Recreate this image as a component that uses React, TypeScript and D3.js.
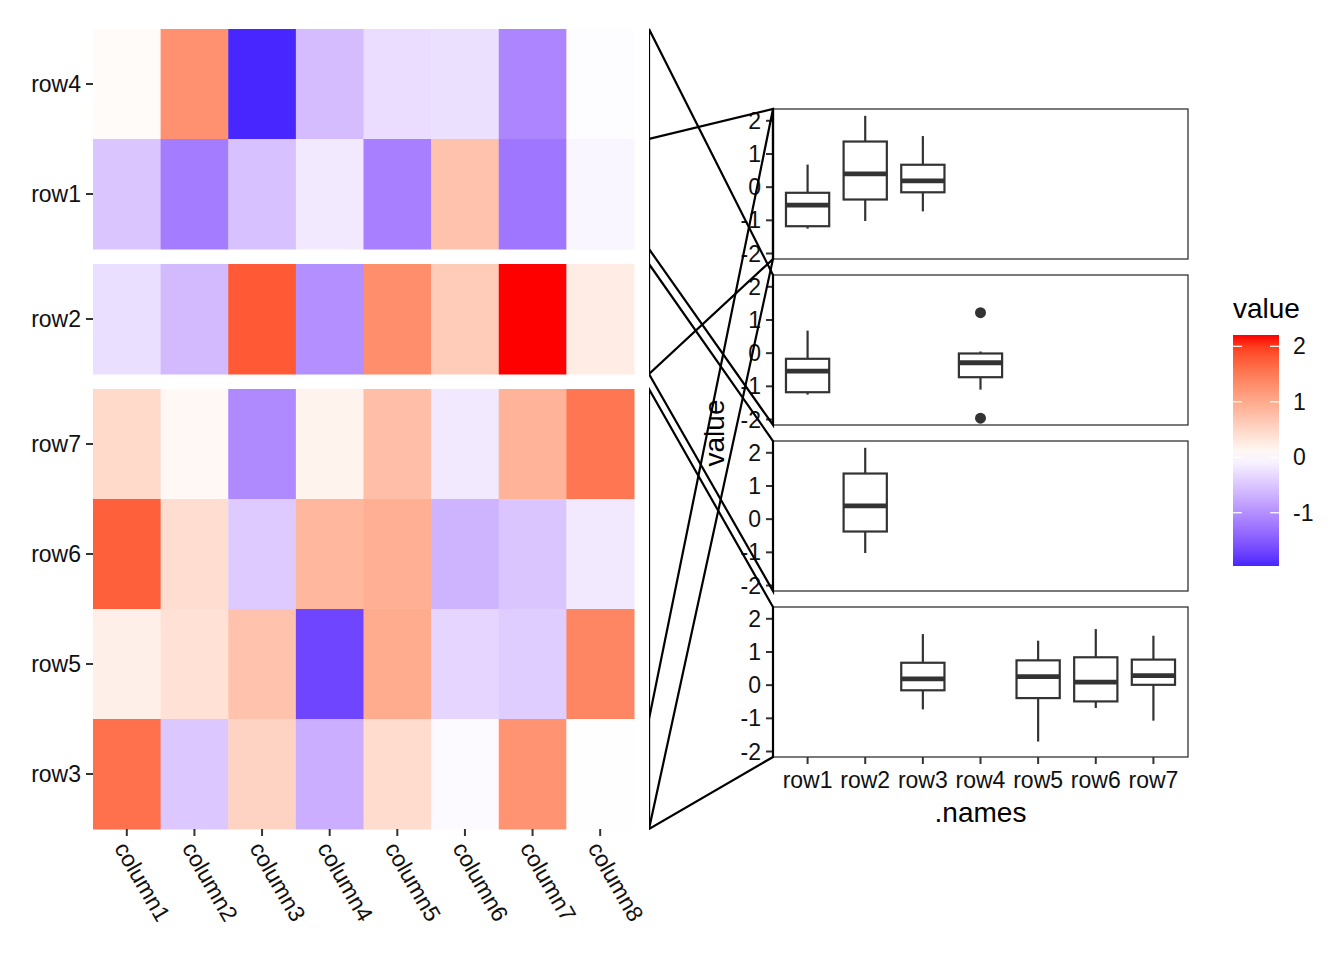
import { useEffect, useRef } from "react";
import * as d3 from "d3";

// ── Heatmap data ────────────────────────────────────────────────────────
const COLUMNS = ["column1", "column2", "column3", "column4", "column5", "column6", "column7", "column8"];

const ROW1 = [-0.52, -1.2, -0.56, -0.2, -1.17, 0.68, -1.25, -0.08];
const ROW2 = [-0.29, -0.62, 1.75, -1.02, 1.25, 0.58, 2.15, 0.22];
const ROW3 = [1.54, -0.5, 0.5, -0.73, 0.4, -0.04, 1.2, -0.02];
const ROW4 = [0.05, 1.22, -1.96, -0.6, -0.3, -0.28, -1.1, -0.03];
const ROW5 = [0.18, 0.34, 0.68, -1.7, 0.95, -0.37, -0.45, 1.34];
const ROW6 = [1.69, 0.38, -0.48, 0.82, 0.9, -0.69, -0.52, -0.2];
const ROW7 = [0.44, 0.08, -1.07, 0.14, 0.74, -0.2, 0.86, 1.49];

const ROW_VALUES: Record<string, number[]> = {
  row1: ROW1, row2: ROW2, row3: ROW3, row4: ROW4,
  row5: ROW5, row6: ROW6, row7: ROW7,
};

// heatmap row order, split in groups (top → bottom)
const ROW_GROUPS = [["row4", "row1"], ["row2"], ["row7", "row6", "row5", "row3"]];

// boxplot panels: which rows each panel shows
const BOX_NAMES = ["row1", "row2", "row3", "row4", "row5", "row6", "row7"];
const PANEL_ROWS = [
  ["row1", "row2", "row3"],
  ["row1", "row4"],
  ["row2"],
  ["row3", "row5", "row6", "row7"],
];

// links: heatmap span (first row top → last row bottom) to a panel
const LINKS = [
  { panel: 0, from: "row1", to: "row2" },
  { panel: 0, from: "row3", to: "row3" },
  { panel: 1, from: "row4", to: "row1" },
  { panel: 2, from: "row2", to: "row2" },
  { panel: 3, from: "row7", to: "row3" },
];

const Y_TICKS = [-2, -1, 0, 1, 2];
const LEGEND_TICKS = [-1, 0, 1, 2];

const W = 1344;
const H = 960;
const FONT = "'Liberation Sans', Arial, Helvetica, sans-serif";
const TEXT_SIZE = 23;
const TITLE_SIZE = 28;
const HEAT = { left: 93, right: 634, top: 29, bottom: 829, gap: 15 };
const BOX = { left: 773, right: 1188, top: 109, panelH: 150, gap: 16 };
const LINK_X0 = 649;
const LEGEND = { x: 1233, w: 46, top: 335, bottom: 566 };

export default function App() {
  const svgRef = useRef<SVGSVGElement>(null);

  useEffect(() => {
    document.body.style.margin = "0";
    if (!svgRef.current) return;
    const svg = d3.select(svgRef.current);
    svg.selectAll("*").remove();

    const allVals = Object.values(ROW_VALUES).flat();
    const vMin = d3.min(allVals)!;
    const vMax = d3.max(allVals)!;
    const absMax = Math.max(Math.abs(vMin), Math.abs(vMax));
    const color = d3.scaleLinear<string>()
      .domain([-absMax, 0, absMax])
      .range(["blue", "white", "red"])
      .interpolate(d3.interpolateLab);

    // ── Heatmap ─────────────────────────────────────────────────────────
    const nRows = ROW_GROUPS.flat().length;
    const rowH = (HEAT.bottom - HEAT.top - HEAT.gap * (ROW_GROUPS.length - 1)) / nRows;
    const rowY: Record<string, number> = {};
    let k = 0;
    ROW_GROUPS.forEach((grp, gi) => {
      grp.forEach((r) => {
        rowY[r] = HEAT.top + k * rowH + gi * HEAT.gap;
        k++;
      });
    });
    const xHeat = d3.scaleBand().domain(COLUMNS).range([HEAT.left, HEAT.right]);

    const heat = svg.append("g");
    ROW_GROUPS.flat().forEach((r) => {
      ROW_VALUES[r].forEach((v, ci) => {
        heat.append("rect")
          .attr("x", xHeat(COLUMNS[ci])!)
          .attr("y", rowY[r])
          .attr("width", xHeat.bandwidth() + 0.5)
          .attr("height", rowH + 0.5)
          .attr("fill", color(v));
      });
      // row label + tick
      heat.append("line")
        .attr("x1", HEAT.left - 7).attr("x2", HEAT.left)
        .attr("y1", rowY[r] + rowH / 2).attr("y2", rowY[r] + rowH / 2)
        .attr("stroke", "#333").attr("stroke-width", 2);
      heat.append("text")
        .attr("x", HEAT.left - 12)
        .attr("y", rowY[r] + rowH / 2)
        .attr("text-anchor", "end")
        .attr("dominant-baseline", "central")
        .attr("font-family", FONT).attr("font-size", TEXT_SIZE)
        .attr("fill", "#111")
        .text(r);
    });
    COLUMNS.forEach((c) => {
      const cx = xHeat(c)! + xHeat.bandwidth() / 2;
      heat.append("line")
        .attr("x1", cx).attr("x2", cx)
        .attr("y1", HEAT.bottom).attr("y2", HEAT.bottom + 7)
        .attr("stroke", "#333").attr("stroke-width", 2);
      heat.append("text")
        .attr("transform", `translate(${cx - 13},${HEAT.bottom + 19}) rotate(60)`)
        .attr("font-family", FONT).attr("font-size", TEXT_SIZE)
        .attr("fill", "#111")
        .text(c);
    });

    // ── Boxplot panels ──────────────────────────────────────────────────
    const boxVals = PANEL_ROWS.flat().flatMap((r) => ROW_VALUES[r]);
    const bMin = d3.min(boxVals)!;
    const bMax = d3.max(boxVals)!;
    const pad = (bMax - bMin) * 0.05;
    const xBox = d3.scalePoint().domain(BOX_NAMES).range([BOX.left, BOX.right]).padding(0.6);
    const boxW = xBox.step() * 0.75;
    const panelTop = (i: number) => BOX.top + i * (BOX.panelH + BOX.gap);

    PANEL_ROWS.forEach((rows, pi) => {
      const top = panelTop(pi);
      const y = d3.scaleLinear().domain([bMin - pad, bMax + pad]).range([top + BOX.panelH, top]);
      const g = svg.append("g");

      rows.forEach((r) => {
        const sorted = ROW_VALUES[r].slice().sort(d3.ascending);
        const q1 = d3.quantile(sorted, 0.25)!;
        const med = d3.quantile(sorted, 0.5)!;
        const q3 = d3.quantile(sorted, 0.75)!;
        const iqr = q3 - q1;
        const inside = sorted.filter((v) => v >= q1 - 1.5 * iqr && v <= q3 + 1.5 * iqr);
        const lo = d3.min(inside)!;
        const hi = d3.max(inside)!;
        const outliers = sorted.filter((v) => v < lo || v > hi);
        const cx = xBox(r)!;

        g.append("line")
          .attr("x1", cx).attr("x2", cx).attr("y1", y(hi)).attr("y2", y(q3))
          .attr("stroke", "#333").attr("stroke-width", 2.2);
        g.append("line")
          .attr("x1", cx).attr("x2", cx).attr("y1", y(q1)).attr("y2", y(lo))
          .attr("stroke", "#333").attr("stroke-width", 2.2);
        g.append("rect")
          .attr("x", cx - boxW / 2).attr("y", y(q3))
          .attr("width", boxW).attr("height", y(q1) - y(q3))
          .attr("fill", "white").attr("stroke", "#333").attr("stroke-width", 2.2);
        g.append("line")
          .attr("x1", cx - boxW / 2).attr("x2", cx + boxW / 2)
          .attr("y1", y(med)).attr("y2", y(med))
          .attr("stroke", "#333").attr("stroke-width", 4.8);
        outliers.forEach((v) => {
          g.append("circle").attr("cx", cx).attr("cy", y(v)).attr("r", 5.5).attr("fill", "#333");
        });
      });

      // panel border
      g.append("rect")
        .attr("x", BOX.left).attr("y", top)
        .attr("width", BOX.right - BOX.left).attr("height", BOX.panelH)
        .attr("fill", "none").attr("stroke", "#333").attr("stroke-width", 1.3);

      // y axis
      Y_TICKS.forEach((t) => {
        g.append("line")
          .attr("x1", BOX.left - 7).attr("x2", BOX.left)
          .attr("y1", y(t)).attr("y2", y(t))
          .attr("stroke", "#333").attr("stroke-width", 2);
        g.append("text")
          .attr("x", BOX.left - 12).attr("y", y(t))
          .attr("text-anchor", "end").attr("dominant-baseline", "central")
          .attr("font-family", FONT).attr("font-size", TEXT_SIZE).attr("fill", "#111")
          .text(t);
      });
    });

    // x axis under last panel
    const lastBottom = panelTop(PANEL_ROWS.length - 1) + BOX.panelH;
    BOX_NAMES.forEach((r) => {
      const cx = xBox(r)!;
      svg.append("line")
        .attr("x1", cx).attr("x2", cx).attr("y1", lastBottom).attr("y2", lastBottom + 7)
        .attr("stroke", "#333").attr("stroke-width", 2);
      svg.append("text")
        .attr("x", cx).attr("y", lastBottom + 31)
        .attr("text-anchor", "middle")
        .attr("font-family", FONT).attr("font-size", TEXT_SIZE).attr("fill", "#111")
        .text(r);
    });
    svg.append("text")
      .attr("x", (BOX.left + BOX.right) / 2).attr("y", lastBottom + 65)
      .attr("text-anchor", "middle")
      .attr("font-family", FONT).attr("font-size", TITLE_SIZE).attr("fill", "black")
      .text(".names");
    svg.append("text")
      .attr("transform", `translate(${724},${(BOX.top + lastBottom) / 2}) rotate(-90)`)
      .attr("text-anchor", "middle")
      .attr("font-family", FONT).attr("font-size", TITLE_SIZE).attr("fill", "black")
      .text("value");

    // ── Links ───────────────────────────────────────────────────────────
    svg.append("clipPath").attr("id", "link-clip")
      .append("rect").attr("x", LINK_X0).attr("y", 0).attr("width", BOX.left + 2 - LINK_X0).attr("height", H);
    const links = svg.append("g").attr("clip-path", "url(#link-clip)");
    LINKS.forEach(({ panel, from, to }) => {
      const top = panelTop(panel);
      const pts: [number, number][] = [
        [LINK_X0, rowY[from]],
        [BOX.left, top],
        [BOX.left, top + BOX.panelH],
        [LINK_X0, rowY[to] + rowH],
      ];
      links.append("path")
        .attr("d", d3.line()(pts) + "Z")
        .attr("fill", "none").attr("stroke", "black").attr("stroke-width", 2.2)
        .attr("stroke-linejoin", "miter");
    });

    // ── Legend ──────────────────────────────────────────────────────────
    const yLeg = d3.scaleLinear().domain([vMin, vMax]).range([LEGEND.bottom, LEGEND.top + 3]);
    const grad = svg.append("defs").append("linearGradient")
      .attr("id", "leg-grad").attr("x1", 0).attr("x2", 0).attr("y1", 1).attr("y2", 0);
    d3.range(0, 1.0001, 0.05).forEach((t) => {
      const v = vMin + t * (vMax - vMin);
      grad.append("stop").attr("offset", t).attr("stop-color", color(v));
    });
    svg.append("text")
      .attr("x", LEGEND.x).attr("y", LEGEND.top - 17)
      .attr("font-family", FONT).attr("font-size", TITLE_SIZE).attr("fill", "black")
      .text("value");
    svg.append("rect")
      .attr("x", LEGEND.x).attr("y", LEGEND.top)
      .attr("width", LEGEND.w).attr("height", LEGEND.bottom - LEGEND.top)
      .attr("fill", "url(#leg-grad)");
    LEGEND_TICKS.forEach((t) => {
      const ty = yLeg(t);
      [[LEGEND.x, LEGEND.x + 9], [LEGEND.x + LEGEND.w - 9, LEGEND.x + LEGEND.w]].forEach(([a, b]) => {
        svg.append("line")
          .attr("x1", a).attr("x2", b).attr("y1", ty).attr("y2", ty)
          .attr("stroke", "white").attr("stroke-width", 1.2);
      });
      svg.append("text")
        .attr("x", LEGEND.x + LEGEND.w + 14).attr("y", ty)
        .attr("dominant-baseline", "central")
        .attr("font-family", FONT).attr("font-size", TEXT_SIZE).attr("fill", "#111")
        .text(t);
    });
  }, []);

  return (
    <svg
      ref={svgRef}
      width={W}
      height={H}
      viewBox={`0 0 ${W} ${H}`}
      style={{ display: "block", background: "white" }}
    />
  );
}
